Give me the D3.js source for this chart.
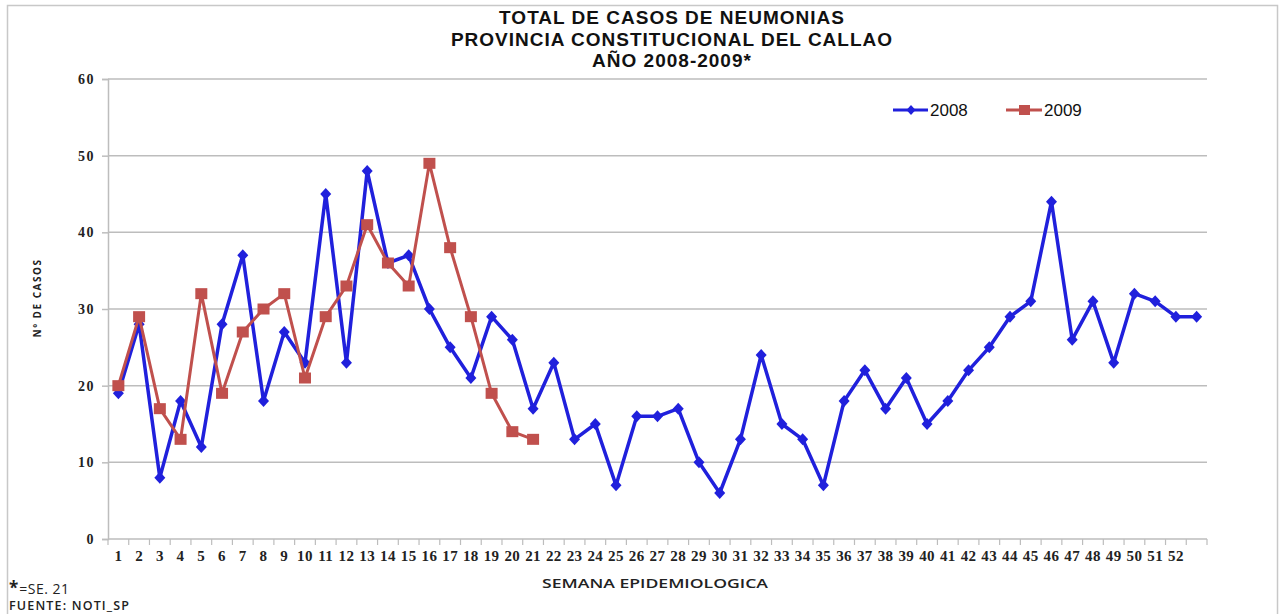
<!DOCTYPE html>
<html lang="es">
<head>
  <meta charset="UTF-8">
  <title>Total de casos de neumonias - Callao</title>
  <script src="https://d3js.org/d3.v7.min.js"></script>
  <style>
    html, body {
      margin: 0;
      padding: 0;
      background: #fff;
      overflow: hidden;
    }
    svg {
      display: block;
    }
  </style>
</head>
<body>
<svg id="chart" width="1284" height="614"></svg>

<script>
  // semanas epidemiologicas (la 53 no lleva etiqueta)
  const weeks = ["1","2","3","4","5","6","7","8","9","10","11","12","13","14","15","16","17","18","19","20",
    "21","22","23","24","25","26","27","28","29","30","31","32","33","34","35","36","37","38","39","40",
    "41","42","43","44","45","46","47","48","49","50","51","52",""];

  const cases2008 = [19, 28, 8, 18, 12, 28, 37, 18, 27, 23, 45, 23, 48, 36, 37, 30, 25, 21, 29, 26,
    17, 23, 13, 15, 7, 16, 16, 17, 10, 6, 13, 24, 15, 13, 7, 18, 22, 17, 21, 15,
    18, 22, 25, 29, 31, 44, 26, 31, 23, 32, 31, 29, 29];

  const cases2009 = [20, 29, 17, 13, 32, 19, 27, 30, 32, 21, 29, 33, 41, 36, 33, 49, 38, 29, 19, 14, 13];

  const yTicks = [0, 10, 20, 30, 40, 50, 60];

  const titleLines = ["TOTAL DE CASOS DE NEUMONIAS", "PROVINCIA CONSTITUCIONAL DEL CALLAO", "AÑO 2008-2009*"];

  const blue = "#2020dc";
  const red = "#c0504d";
  const grid = "#bdbdbd";

  const svg = d3.select("#chart");

  // marco del grafico
  svg.append("rect")
      .attr("x", 7.5).attr("y", 5.5)
      .attr("width", 1270).attr("height", 640)
      .attr("fill", "#fff")
      .attr("stroke", "#c8c8c8")
      .attr("stroke-width", 1.5);

  const x = d3.scaleBand()
      .domain(d3.range(weeks.length))
      .range([108, 1207]);

  const y = d3.scaleLinear()
      .domain([0, 60])
      .range([539, 79]);

  const cx = i => x(i) + x.bandwidth() / 2;

  // titulo
  svg.append("g")
      .selectAll("text")
      .data(titleLines)
      .join("text")
      .attr("x", 672)
      .attr("y", (d, i) => 24 + i * 21.5)
      .attr("text-anchor", "middle")
      .attr("font-family", "Liberation Sans, Arial, sans-serif")
      .attr("font-weight", "bold")
      .attr("font-size", "19px")
      .attr("letter-spacing", "1px")
      .attr("fill", "#111")
      .text(d => d);

  // lineas de la grilla
  svg.append("g")
      .selectAll("line")
      .data(yTicks.filter(d => d > 0))
      .join("line")
      .attr("x1", 108).attr("x2", 1207)
      .attr("y1", d => y(d)).attr("y2", d => y(d))
      .attr("stroke", grid)
      .attr("stroke-width", 1.5);

  // eje Y
  const yAxis = svg.append("g")
      .attr("transform", "translate(108,0)")
      .call(d3.axisLeft(y).tickValues(yTicks).tickSize(6).tickPadding(7));
  yAxis.select(".domain").attr("stroke", grid).attr("stroke-width", 1.5);
  yAxis.selectAll(".tick line").attr("stroke", grid).attr("stroke-width", 1.5);
  yAxis.selectAll(".tick text")
      .attr("font-family", "Liberation Serif, serif")
      .attr("font-weight", "bold")
      .attr("font-size", "14px")
      .attr("letter-spacing", "1.5px")
      .attr("fill", "#222");

  // eje X
  const xAxisG = svg.append("g").attr("transform", "translate(0,539)");
  xAxisG.append("line")
      .attr("x1", 108).attr("x2", 1207)
      .attr("stroke", grid).attr("stroke-width", 1.5);
  xAxisG.append("g")
      .selectAll("line")
      .data(d3.range(weeks.length + 1))
      .join("line")
      .attr("x1", d => d < weeks.length ? x(d) : x(d - 1) + x.bandwidth())
      .attr("x2", d => d < weeks.length ? x(d) : x(d - 1) + x.bandwidth())
      .attr("y1", 0).attr("y2", 6)
      .attr("stroke", grid).attr("stroke-width", 1.2);
  xAxisG.append("g")
      .selectAll("text")
      .data(weeks)
      .join("text")
      .attr("x", (d, i) => cx(i))
      .attr("y", 22)
      .attr("text-anchor", "middle")
      .attr("font-family", "Liberation Serif, serif")
      .attr("font-weight", "bold")
      .attr("font-size", "15px")
      .attr("letter-spacing", "0.4px")
      .attr("fill", "#222")
      .text(d => d);

  // titulos de ejes
  svg.append("text")
      .attr("x", 655).attr("y", 588)
      .attr("text-anchor", "middle")
      .attr("font-family", "Open Sans, sans-serif")
      .attr("font-weight", "600")
      .attr("font-size", "13px")
      .attr("textLength", 226)
      .attr("lengthAdjust", "spacingAndGlyphs")
      .attr("fill", "#222")
      .text("SEMANA EPIDEMIOLOGICA");

  svg.append("text")
      .attr("transform", "translate(41,298) rotate(-90)")
      .attr("text-anchor", "middle")
      .attr("font-family", "Open Sans, sans-serif")
      .attr("font-weight", "bold")
      .attr("font-size", "10px")
      .attr("letter-spacing", "1.5px")
      .attr("fill", "#222")
      .text("Nº DE CASOS");

  // notas al pie
  const note = svg.append("text")
      .attr("x", 9).attr("y", 594)
      .attr("font-family", "Open Sans, sans-serif")
      .attr("fill", "#222");
  note.append("tspan").attr("font-size", "17px").attr("font-weight", "bold").text("*");
  note.append("tspan").attr("font-size", "14px").attr("dx", 1).attr("letter-spacing", "0.5px").text("=SE. 21");

  svg.append("text")
      .attr("x", 9).attr("y", 610)
      .attr("font-family", "Open Sans, sans-serif")
      .attr("font-weight", "600")
      .attr("font-size", "12.5px")
      .attr("textLength", 120)
      .attr("fill", "#222")
      .text("FUENTE: NOTI_SP");

  // series
  const line = d3.line()
      .x((d, i) => cx(i))
      .y(d => y(d));

  svg.append("path")
      .datum(cases2008)
      .attr("fill", "none")
      .attr("stroke", blue)
      .attr("stroke-width", 3.5)
      .attr("stroke-linejoin", "round")
      .attr("d", line);

  svg.append("g")
      .selectAll("path")
      .data(cases2008)
      .join("path")
      .attr("transform", (d, i) => `translate(${cx(i)},${y(d)})`)
      .attr("d", "M0,-6L5.5,0L0,6L-5.5,0Z")
      .attr("fill", blue);

  svg.append("path")
      .datum(cases2009)
      .attr("fill", "none")
      .attr("stroke", red)
      .attr("stroke-width", 3)
      .attr("stroke-linejoin", "round")
      .attr("d", line);

  svg.append("g")
      .selectAll("rect")
      .data(cases2009)
      .join("rect")
      .attr("x", (d, i) => cx(i) - 6)
      .attr("y", d => y(d) - 5.5)
      .attr("width", 12)
      .attr("height", 11)
      .attr("fill", red);

  // leyenda
  const legend = svg.append("g").attr("transform", "translate(893,110)");
  legend.append("line").attr("x1", 0).attr("x2", 35).attr("stroke", blue).attr("stroke-width", 3);
  legend.append("path").attr("transform", "translate(18,0)").attr("d", "M0,-5L4.5,0L0,5L-4.5,0Z").attr("fill", blue);
  legend.append("text").attr("x", 37).attr("y", 6)
      .attr("font-family", "Liberation Sans, Arial, sans-serif")
      .attr("font-size", "17px").attr("fill", "#111").text("2008");

  legend.append("line").attr("x1", 113).attr("x2", 149).attr("stroke", red).attr("stroke-width", 3);
  legend.append("rect").attr("x", 126).attr("y", -5).attr("width", 11).attr("height", 10).attr("fill", red);
  legend.append("text").attr("x", 151).attr("y", 6)
      .attr("font-family", "Liberation Sans, Arial, sans-serif")
      .attr("font-size", "17px").attr("fill", "#111").text("2009");
</script>
</body>
</html>
